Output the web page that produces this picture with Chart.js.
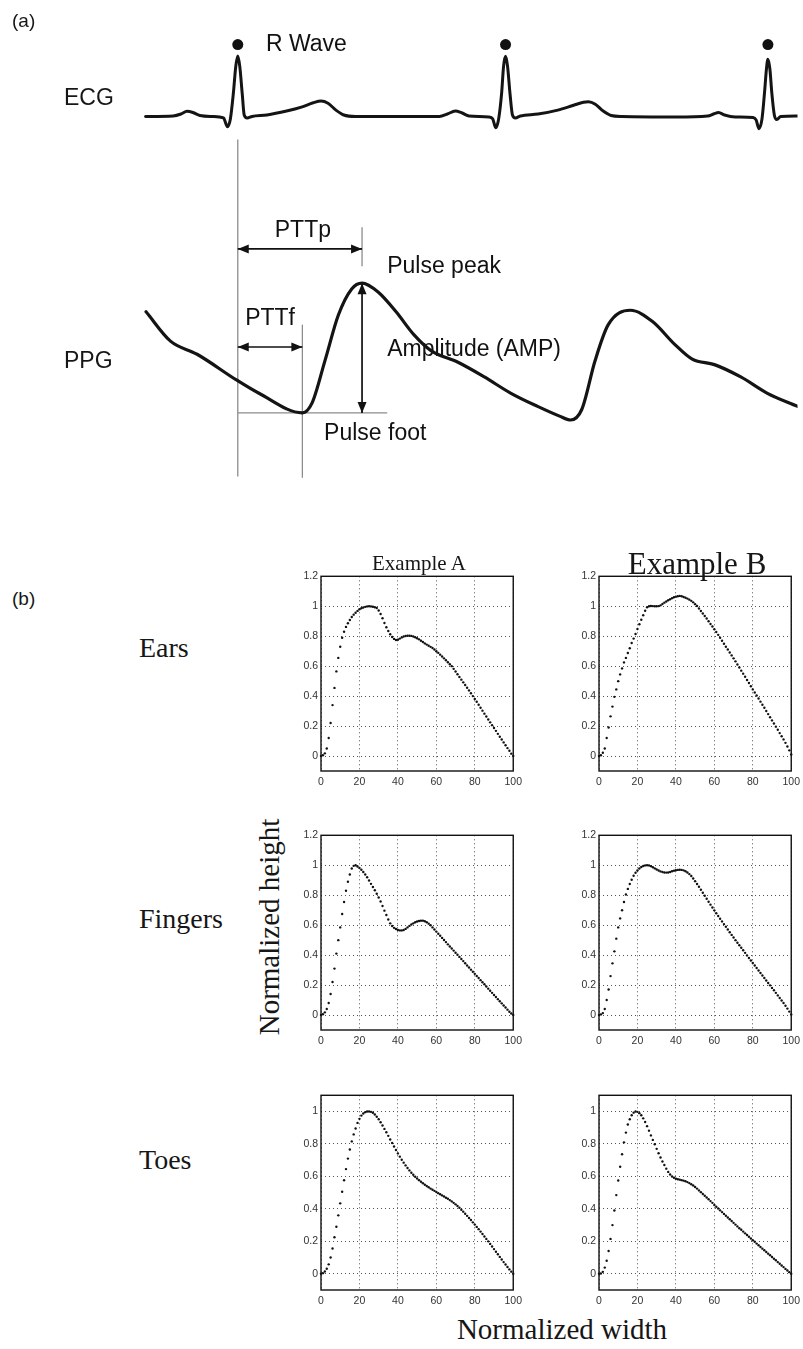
<!DOCTYPE html>
<html>
<head>
<meta charset="utf-8">
<script src="https://cdn.jsdelivr.net/npm/chart.js@4.4.1/dist/chart.umd.min.js"></script>
<style>
  html, body { margin: 0; padding: 0; background: #fff; }
  body { width: 803px; height: 1349px; position: relative; overflow: hidden; }
  canvas, .lbl { position: absolute; }
  .lbl { line-height: 1; white-space: nowrap; color: #161616; }
  .sans { font-family: "Liberation Sans", Arial, sans-serif; }
  .serif { font-family: "Liberation Serif", "Times New Roman", serif; }
</style>
</head>
<body>
<canvas id="panelA" width="803" height="490" style="left:0;top:0"></canvas>

<canvas id="earsA" width="236" height="226" style="left:291px;top:567px"></canvas>
<canvas id="earsB" width="236" height="226" style="left:569px;top:567px"></canvas>
<canvas id="fingersA" width="236" height="226" style="left:291px;top:826px"></canvas>
<canvas id="fingersB" width="236" height="226" style="left:569px;top:826px"></canvas>
<canvas id="toesA" width="236" height="226" style="left:291px;top:1086px"></canvas>
<canvas id="toesB" width="236" height="226" style="left:569px;top:1086px"></canvas>

<div class="lbl sans" style="left:12px;top:11px;font-size:19px">(a)</div>
<div class="lbl sans" style="left:64px;top:86px;font-size:23px">ECG</div>
<div class="lbl sans" style="left:64px;top:349px;font-size:23px">PPG</div>
<div class="lbl sans" style="left:12px;top:589px;font-size:19px">(b)</div>

<div class="lbl serif" style="left:419px;top:553px;font-size:21px;transform:translateX(-50%)">Example A</div>
<div class="lbl serif" style="left:697px;top:548px;font-size:31px;transform:translateX(-50%)">Example B</div>
<div class="lbl serif" style="left:139px;top:634px;font-size:28px">Ears</div>
<div class="lbl serif" style="left:139px;top:905px;font-size:28px">Fingers</div>
<div class="lbl serif" style="left:139px;top:1146px;font-size:28px">Toes</div>
<div class="lbl serif" style="left:269px;top:927px;font-size:29px;transform:translate(-50%,-50%) rotate(-90deg)">Normalized height</div>
<div class="lbl serif" style="left:562px;top:1315px;font-size:29px;transform:translateX(-50%)">Normalized width</div>

<script>
// ---- (a) ECG, time in ms, amplitude in mV ----
const ECG_T = [568, 680, 712, 736, 760, 788, 840, 884, 900, 912, 924, 934, 942, 950, 960, 968, 980, 1000,
  1060, 1140, 1200, 1248, 1280, 1308, 1340, 1372, 1420, 1600, 1760, 1792, 1824, 1852, 1880, 1960, 1976,
  1988, 2000, 2012, 2020, 2028, 2036, 2046, 2056, 2068, 2088, 2160, 2240, 2304, 2344, 2364, 2392, 2424,
  2456, 2500, 2720, 2848, 2872, 2892, 2916, 2960, 3032, 3044, 3056, 3068, 3078, 3086, 3092, 3100, 3108,
  3118, 3128, 3144, 3212];
const ECG_MV = [-0.01, 0, 0.04, 0.094, 0.07, 0.01, -0.01, -0.04, -0.22, -0.06, 0.46, 1.02, 1.226, 1.02, 0.46, 0.02, -0.04, -0.01,
  0.02, 0.1, 0.18, 0.27, 0.306, 0.26, 0.12, 0.02, -0.01, -0.01, -0.01, 0.04, 0.1, 0.06, 0, -0.02, -0.06,
  -0.24, -0.06, 0.46, 1.02, 1.22, 1.02, 0.46, 0.02, -0.04, 0, 0.04, 0.12, 0.22, 0.28, 0.29, 0.24, 0.1,
  0.01, -0.01, -0.02, 0, 0.04, 0.07, 0.02, -0.02, -0.03, -0.08, -0.26, -0.06, 0.46, 0.96, 1.16, 0.96, 0.46,
  0.02, -0.074, -0.01, 0];
const R_PEAK_T = [942, 2028, 3092];
const R_MARK_MV = 1.46;

// ---- (a) PPG, time in ms, normalised amplitude ----
const PPG_T = [570, 669, 777, 938, 1028, 1204, 1243, 1296, 1350, 1404, 1446, 1512, 1584, 1656, 1727, 1835,
  1942, 2050, 2158, 2247, 2292, 2337, 2391, 2444, 2534, 2624, 2714, 2785, 2875, 2982, 3090, 3212];
const PPG_V = [0.779, 0.553, 0.452, 0.252, 0.151, 0, 0.075, 0.405, 0.754, 0.955, 1.0, 0.93, 0.779, 0.603, 0.478, 0.39,
  0.277, 0.151, 0.05, -0.025, -0.055, 0.026, 0.402, 0.678, 0.791, 0.704, 0.528, 0.414, 0.372, 0.277, 0.151, 0.05];

// ---- (b) normalised pulse shapes ----
const NORM_WIDTH = [0, 1, 2, 3, 4, 5, 6, 7, 8, 9, 10, 11, 12, 13, 14, 15, 16, 17, 18, 19, 20, 21, 22, 23, 24, 25,
  26, 27, 28, 29, 30, 31, 32, 33, 34, 35, 36, 37, 38, 39, 40, 41, 42, 43, 44, 45, 46, 47, 48, 49, 50, 51, 52,
  53, 54, 55, 56, 57, 58, 59, 60, 61, 62, 63, 64, 65, 66, 67, 68, 69, 70, 71, 72, 73, 74, 75, 76, 77, 78, 79,
  80, 81, 82, 83, 84, 85, 86, 87, 88, 89, 90, 91, 92, 93, 94, 95, 96, 97, 98, 99, 100];
const X_TICKS = [0, 20, 40, 60, 80, 100];
const Y_TICKS = [0, 0.2, 0.4, 0.6, 0.8, 1, 1.2];
const Y_TICKS_TOES = [0, 0.2, 0.4, 0.6, 0.8, 1];

const EARS_A = [
  0.000, 0.005, 0.018, 0.050, 0.120, 0.220, 0.340, 0.455, 0.565, 0.655,
  0.730, 0.790, 0.830, 0.862, 0.887, 0.908, 0.928, 0.944, 0.957, 0.969,
  0.980, 0.987, 0.992, 0.996, 0.999, 1.000, 0.999, 0.997, 0.993, 0.988,
  0.972, 0.948, 0.920, 0.888, 0.860, 0.835, 0.813, 0.795, 0.782, 0.775,
  0.776, 0.784, 0.792, 0.798, 0.801, 0.803, 0.803, 0.802, 0.798, 0.793,
  0.786, 0.779, 0.770, 0.761, 0.752, 0.744, 0.736, 0.729, 0.721, 0.711,
  0.700, 0.689, 0.677, 0.665, 0.652, 0.639, 0.626, 0.613, 0.600, 0.582,
  0.564, 0.546, 0.528, 0.510, 0.492, 0.474, 0.456, 0.438, 0.419, 0.400,
  0.381, 0.362, 0.342, 0.322, 0.303, 0.283, 0.264, 0.244, 0.225, 0.206,
  0.187, 0.168, 0.148, 0.129, 0.110, 0.091, 0.072, 0.053, 0.035, 0.016,
  0.000];
const EARS_B = [
  0.000, 0.005, 0.022, 0.050, 0.120, 0.190, 0.265, 0.330, 0.395, 0.445,
  0.500, 0.545, 0.585, 0.625, 0.655, 0.688, 0.720, 0.755, 0.784, 0.815,
  0.848, 0.880, 0.910, 0.940, 0.970, 0.993, 1.000, 1.002, 1.001, 1.000,
  1.000, 1.001, 1.006, 1.015, 1.024, 1.032, 1.040, 1.047, 1.054, 1.060,
  1.064, 1.067, 1.069, 1.067, 1.062, 1.057, 1.051, 1.044, 1.036, 1.026,
  1.014, 1.002, 0.985, 0.968, 0.952, 0.935, 0.918, 0.900, 0.882, 0.865,
  0.846, 0.828, 0.809, 0.790, 0.770, 0.750, 0.730, 0.711, 0.691, 0.672,
  0.652, 0.632, 0.611, 0.591, 0.570, 0.550, 0.529, 0.508, 0.488, 0.466,
  0.445, 0.424, 0.404, 0.384, 0.363, 0.342, 0.322, 0.301, 0.280, 0.259,
  0.238, 0.217, 0.196, 0.175, 0.153, 0.132, 0.111, 0.088, 0.064, 0.038,
  0.010];
const FINGERS_A = [
  0.000, 0.005, 0.018, 0.040, 0.080, 0.140, 0.220, 0.310, 0.410, 0.500,
  0.585, 0.675, 0.755, 0.830, 0.890, 0.938, 0.978, 0.996, 1.000, 0.992,
  0.982, 0.970, 0.955, 0.938, 0.920, 0.898, 0.876, 0.855, 0.833, 0.810,
  0.785, 0.758, 0.728, 0.697, 0.668, 0.638, 0.612, 0.594, 0.582, 0.574,
  0.568, 0.565, 0.565, 0.568, 0.575, 0.585, 0.595, 0.604, 0.612, 0.619,
  0.624, 0.628, 0.630, 0.630, 0.626, 0.619, 0.610, 0.599, 0.585, 0.571,
  0.557, 0.543, 0.529, 0.515, 0.501, 0.487, 0.472, 0.458, 0.444, 0.430,
  0.416, 0.402, 0.388, 0.374, 0.360, 0.346, 0.331, 0.317, 0.303, 0.289,
  0.275, 0.261, 0.247, 0.233, 0.219, 0.205, 0.190, 0.176, 0.162, 0.148,
  0.134, 0.120, 0.106, 0.092, 0.078, 0.064, 0.050, 0.036, 0.022, 0.010,
  0.000];
const FINGERS_B = [
  0.000, 0.004, 0.013, 0.040, 0.100, 0.170, 0.260, 0.345, 0.425, 0.510,
  0.585, 0.645, 0.700, 0.755, 0.805, 0.842, 0.875, 0.903, 0.930, 0.950,
  0.965, 0.978, 0.988, 0.995, 0.999, 1.000, 0.999, 0.994, 0.987, 0.979,
  0.972, 0.965, 0.959, 0.955, 0.952, 0.951, 0.952, 0.955, 0.960, 0.964,
  0.967, 0.969, 0.970, 0.969, 0.966, 0.960, 0.952, 0.941, 0.928, 0.912,
  0.894, 0.875, 0.856, 0.836, 0.816, 0.796, 0.776, 0.756, 0.737, 0.718,
  0.699, 0.680, 0.661, 0.643, 0.625, 0.607, 0.589, 0.571, 0.553, 0.535,
  0.518, 0.500, 0.483, 0.466, 0.449, 0.432, 0.415, 0.398, 0.381, 0.364,
  0.347, 0.331, 0.314, 0.297, 0.281, 0.264, 0.247, 0.231, 0.214, 0.198,
  0.181, 0.165, 0.148, 0.131, 0.114, 0.097, 0.080, 0.062, 0.043, 0.023,
  0.004];
const TOES_A = [
  0.000, 0.004, 0.014, 0.031, 0.058, 0.100, 0.156, 0.225, 0.290, 0.360,
  0.434, 0.506, 0.576, 0.645, 0.710, 0.766, 0.816, 0.859, 0.895, 0.930,
  0.955, 0.975, 0.988, 0.996, 1.000, 1.000, 0.998, 0.992, 0.982, 0.968,
  0.952, 0.934, 0.914, 0.893, 0.872, 0.850, 0.828, 0.806, 0.784, 0.763,
  0.742, 0.722, 0.703, 0.685, 0.668, 0.652, 0.637, 0.623, 0.610, 0.598,
  0.587, 0.577, 0.567, 0.558, 0.549, 0.541, 0.533, 0.525, 0.518, 0.511,
  0.504, 0.497, 0.490, 0.483, 0.476, 0.469, 0.462, 0.454, 0.446, 0.437,
  0.428, 0.418, 0.407, 0.395, 0.383, 0.370, 0.357, 0.344, 0.331, 0.317,
  0.303, 0.289, 0.275, 0.260, 0.245, 0.230, 0.215, 0.200, 0.184, 0.168,
  0.152, 0.136, 0.120, 0.104, 0.088, 0.072, 0.057, 0.042, 0.027, 0.013,
  0.000];
const TOES_B = [
  0.000, 0.002, 0.012, 0.038, 0.080, 0.140, 0.215, 0.300, 0.390, 0.485,
  0.575, 0.660, 0.737, 0.810, 0.870, 0.920, 0.952, 0.977, 0.993, 1.000,
  0.998, 0.990, 0.977, 0.958, 0.935, 0.910, 0.882, 0.853, 0.825, 0.798,
  0.770, 0.743, 0.717, 0.692, 0.670, 0.648, 0.628, 0.612, 0.600, 0.592,
  0.586, 0.583, 0.580, 0.577, 0.574, 0.570, 0.565, 0.559, 0.552, 0.544,
  0.535, 0.525, 0.514, 0.503, 0.492, 0.481, 0.470, 0.459, 0.448, 0.437,
  0.424, 0.413, 0.402, 0.391, 0.380, 0.369, 0.358, 0.347, 0.336, 0.325,
  0.314, 0.303, 0.292, 0.281, 0.271, 0.260, 0.249, 0.239, 0.228, 0.217,
  0.207, 0.197, 0.186, 0.176, 0.165, 0.155, 0.145, 0.134, 0.124, 0.114,
  0.103, 0.093, 0.083, 0.072, 0.062, 0.051, 0.041, 0.030, 0.020, 0.010,
  0.000];

// draws PTT / amplitude annotations of panel (a) on the data scales
function strokeLine(ctx, x1, y1, x2, y2) {
  ctx.beginPath(); ctx.moveTo(x1, y1); ctx.lineTo(x2, y2); ctx.stroke();
}
function arrowHead(ctx, x, y, ang) {
  const L = 11, W = 4.5;
  const c = Math.cos(ang), s = Math.sin(ang);
  ctx.beginPath();
  ctx.moveTo(x, y);
  ctx.lineTo(x - L * c + W * s, y - L * s - W * c);
  ctx.lineTo(x - L * c - W * s, y - L * s + W * c);
  ctx.closePath();
  ctx.fill();
}
function doubleArrow(ctx, x1, y1, x2, y2) {
  const ang = Math.atan2(y2 - y1, x2 - x1);
  strokeLine(ctx, x1, y1, x2, y2);
  arrowHead(ctx, x2, y2, ang);
  arrowHead(ctx, x1, y1, ang + Math.PI);
}

const annotate = {
  id: 'annotate',
  beforeDatasetsDraw(chart) {
    const { ctx } = chart;
    const { x, yEcg, yPpg } = chart.scales;
    let peak = 0;
    PPG_V.forEach((v, i) => { if (v > PPG_V[peak]) peak = i; });
    let foot = 0;
    for (let i = 0; i < peak; i++) if (PPG_V[i] < PPG_V[foot]) foot = i;
    const rT = R_PEAK_T[0], peakT = PPG_T[peak], footT = PPG_T[foot];
    const X = t => x.getPixelForValue(t);
    const P = v => yPpg.getPixelForValue(v);

    ctx.save();
    ctx.strokeStyle = '#8c8c8c';
    ctx.lineWidth = 1.3;
    strokeLine(ctx, X(rT), yEcg.getPixelForValue(-0.48), X(rT), P(-0.49));
    strokeLine(ctx, X(footT), P(0.68), X(footT), P(-0.5));
    strokeLine(ctx, X(peakT), P(1.43), X(peakT), P(1.13));
    strokeLine(ctx, X(rT), P(PPG_V[foot]), X(peakT + 102), P(PPG_V[foot]));

    ctx.strokeStyle = '#111';
    ctx.fillStyle = '#111';
    ctx.lineWidth = 1.7;
    doubleArrow(ctx, X(rT), P(1.264), X(peakT), P(1.264));
    doubleArrow(ctx, X(rT), P(0.508), X(footT), P(0.508));
    doubleArrow(ctx, X(peakT), P(PPG_V[peak]), X(peakT), P(PPG_V[foot]));

    ctx.font = '23px "Liberation Sans", Arial, sans-serif';
    ctx.textBaseline = 'middle';
    ctx.textAlign = 'center';
    ctx.fillText('PTTp', X((rT + peakT) / 2 + 12), P(1.407));
    ctx.fillText('PTTf', X((rT + footT) / 2), P(0.729));
    ctx.textAlign = 'left';
    ctx.fillText('Pulse peak', X(peakT + 102), P(1.126));
    ctx.fillText('Amplitude (AMP)', X(peakT + 102), P(0.49));
    ctx.fillText('Pulse foot', X(footT + 88), P(-0.16));
    ctx.fillText('R Wave', X(rT + 114), yEcg.getPixelForValue(R_MARK_MV));
    ctx.restore();
  }
};

new Chart(document.getElementById('panelA'), {
  type: 'scatter',
  data: {
    datasets: [
      {
        data: ECG_T.map((t, i) => ({ x: t, y: ECG_MV[i] })),
        yAxisID: 'yEcg', showLine: true, borderColor: '#141414', borderWidth: 3,
        pointRadius: 0, cubicInterpolationMode: 'monotone', borderJoinStyle: 'round', borderCapStyle: 'round'
      },
      {
        data: R_PEAK_T.map(t => ({ x: t, y: R_MARK_MV })),
        yAxisID: 'yEcg', pointRadius: 5.5, pointBackgroundColor: '#111', pointBorderWidth: 0
      },
      {
        data: PPG_T.map((t, i) => ({ x: t, y: PPG_V[i] })),
        yAxisID: 'yPpg', showLine: true, borderColor: '#141414', borderWidth: 3.2,
        pointRadius: 0, cubicInterpolationMode: 'monotone', borderJoinStyle: 'round', borderCapStyle: 'round'
      }
    ]
  },
  options: {
    responsive: false,
    animation: false,
    events: [],
    layout: { padding: 0 },
    plugins: { legend: { display: false }, tooltip: { enabled: false } },
    scales: {
      x: { type: 'linear', display: false, min: 0, max: 3212 },
      yEcg: { type: 'linear', display: false, min: -7.54, max: 2.26 },
      yPpg: { type: 'linear', display: false, min: -0.552, max: 3.14 }
    }
  },
  plugins: [annotate]
});

// full box round each small plot
const frameBox = {
  id: 'frameBox',
  afterDatasetsDraw(chart) {
    const { ctx, chartArea: a } = chart;
    ctx.save();
    ctx.strokeStyle = '#111';
    ctx.lineWidth = 1.4;
    ctx.strokeRect(a.left, a.top, a.right - a.left, a.bottom - a.top);
    ctx.restore();
  }
};

const tickFont = { family: '"Liberation Sans", Arial, sans-serif', size: 10.5 };

function pulseChart(id, values, yMax, yTicks) {
  return new Chart(document.getElementById(id), {
    type: 'line',
    data: {
      labels: NORM_WIDTH,
      datasets: [{
        data: values, showLine: false, clip: 4,
        pointRadius: 1.2, pointHoverRadius: 1.2, pointStyle: 'circle',
        pointBackgroundColor: '#111', pointBorderWidth: 0
      }]
    },
    options: {
      responsive: false,
      animation: false,
      events: [],
      layout: { padding: { top: 8, right: 10, left: 0, bottom: 0 } },
      plugins: { legend: { display: false }, tooltip: { enabled: false } },
      scales: {
        x: {
          type: 'linear', min: 0, max: 100,
          afterBuildTicks: s => { s.ticks = X_TICKS.map(v => ({ value: v })); },
          afterFit: s => { s.height = 22; },
          grid: { color: '#555', lineWidth: 1, drawTicks: false },
          border: { display: false, dash: [1, 3] },
          ticks: { padding: 5, color: '#333', font: tickFont, maxRotation: 0, autoSkip: false }
        },
        y: {
          type: 'linear', min: -0.1, max: yMax,
          afterBuildTicks: s => { s.ticks = yTicks.map(v => ({ value: v })); },
          afterFit: s => { s.width = 30; },
          grid: { color: '#555', lineWidth: 1, drawTicks: false },
          border: { display: false, dash: [1, 3] },
          ticks: { padding: 3, color: '#333', font: tickFont, callback: v => String(v) }
        }
      }
    },
    plugins: [frameBox]
  });
}

pulseChart('earsA', EARS_A, 1.2, Y_TICKS);
pulseChart('earsB', EARS_B, 1.2, Y_TICKS);
pulseChart('fingersA', FINGERS_A, 1.2, Y_TICKS);
pulseChart('fingersB', FINGERS_B, 1.2, Y_TICKS);
pulseChart('toesA', TOES_A, 1.1, Y_TICKS_TOES);
pulseChart('toesB', TOES_B, 1.1, Y_TICKS_TOES);
</script>
</body>
</html>
